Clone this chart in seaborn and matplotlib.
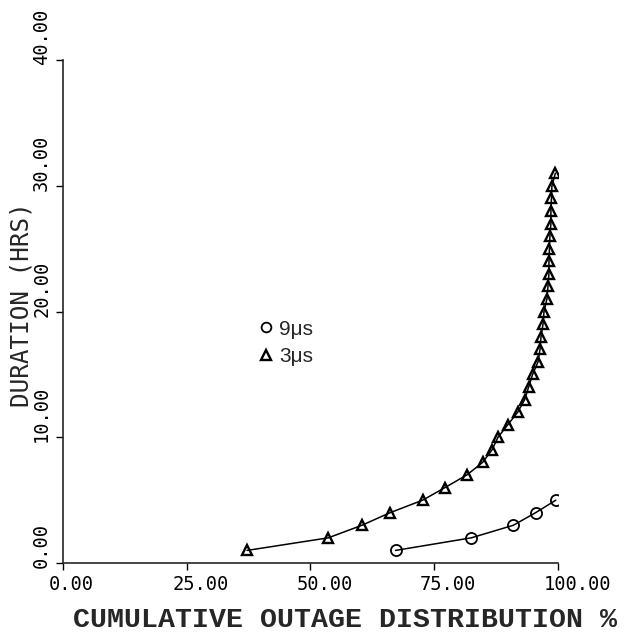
import matplotlib
matplotlib.use("Agg")
import matplotlib.pyplot as plt
import matplotlib.transforms as mtransforms
from matplotlib.lines import Line2D
import pandas as pd
import seaborn as sns

# 3 microsecond series (triangles)
tri_duration = [1, 2, 3, 4, 5, 6, 7, 8, 9, 10, 11, 12, 13, 14, 15, 16,
                17, 18, 19, 20, 21, 22, 23, 24, 25, 26, 27, 28, 29, 30, 31]
tri_percent = [37.2, 53.6, 60.4, 66.1, 72.7, 77.2, 81.6, 84.8, 86.7, 87.9,
               89.9, 91.9, 93.3, 94.1, 94.9, 96.0, 96.4, 96.6, 97.0, 97.2,
               97.8, 98.0, 98.2, 98.2, 98.3, 98.4, 98.6, 98.6, 98.7, 98.8, 99.5]

# 9 microsecond series (circles)
circ_duration = [1, 2, 3, 4, 5]
circ_percent = [67.2, 82.5, 91.0, 95.5, 99.6]

x_ticks = [0, 25, 50, 75, 100]
y_ticks = [0, 10, 20, 30, 40]
series_labels = ["9\u03bcs", "3\u03bcs"]

tri_df = pd.DataFrame({"pct": tri_percent, "dur": tri_duration})
circ_df = pd.DataFrame({"pct": circ_percent, "dur": circ_duration})

sns.set_style("ticks")
plt.rcParams["font.family"] = ["DejaVu Sans Mono", "DejaVu Sans"]

fig = plt.figure(figsize=(6.28, 6.35), dpi=100)
ax = fig.add_axes([0.1003, 0.1134, 0.788, 0.792])

line_kw = dict(color="black", linewidth=1.1, estimator=None, sort=False,
               markerfacecolor="none", markeredgecolor="black", legend=False)
sns.lineplot(data=tri_df, x="pct", y="dur", marker="^", markersize=7,
             markeredgewidth=1.7, ax=ax, **line_kw)
sns.lineplot(data=circ_df, x="pct", y="dur", marker="o", markersize=8,
             markeredgewidth=1.3, ax=ax, **line_kw)

ax.set_xlim(0, 100)
ax.set_ylim(0, 40)
ax.set_xticks(x_ticks)
ax.set_yticks(y_ticks)
ax.set_xticklabels([f"{v:.2f}" for v in x_ticks])
ax.set_yticklabels([f"{v:.2f}" for v in y_ticks])
sns.despine(ax=ax)
ax.spines["left"].set_linewidth(1.2)
ax.spines["bottom"].set_linewidth(1.2)
ax.tick_params(direction="out", length=5, width=1, labelsize=13.5, colors="black")

# plotter style: x labels start left of tick, y labels rotated upward from tick
dx = mtransforms.ScaledTranslation(-14 / 100, 0, fig.dpi_scale_trans)
for lab in ax.get_xticklabels():
    lab.set_ha("left")
    lab.set_transform(lab.get_transform() + dx)
dy = mtransforms.ScaledTranslation(0, -5 / 100, fig.dpi_scale_trans)
for lab in ax.get_yticklabels():
    lab.set_rotation(90)
    lab.set_va("bottom")
    lab.set_transform(lab.get_transform() + dy)

ax.set_ylabel("DURATION (HRS)", fontsize=17.5)
ax.yaxis.set_label_coords(-0.06, 0.514)
ax.set_xlabel("CUMULATIVE OUTAGE DISTRIBUTION %", fontsize=20.3,
              family="Liberation Mono", weight="bold")
ax.xaxis.set_label_coords(0.57, -0.088)
ax.xaxis.label.set_va("top")

handles = [
    Line2D([], [], linestyle="none", marker="o", markersize=7,
           markerfacecolor="none", markeredgecolor="black", markeredgewidth=1.3),
    Line2D([], [], linestyle="none", marker="^", markersize=7,
           markerfacecolor="none", markeredgecolor="black", markeredgewidth=1.7),
]
ax.legend(handles, series_labels, frameon=False, loc="upper left",
          bbox_to_anchor=(0.359, 0.521), handlelength=0.6, handletextpad=0.35,
          labelspacing=0.4, prop={"family": "Liberation Sans", "size": 15})

fig.savefig("out.png", dpi=100)
